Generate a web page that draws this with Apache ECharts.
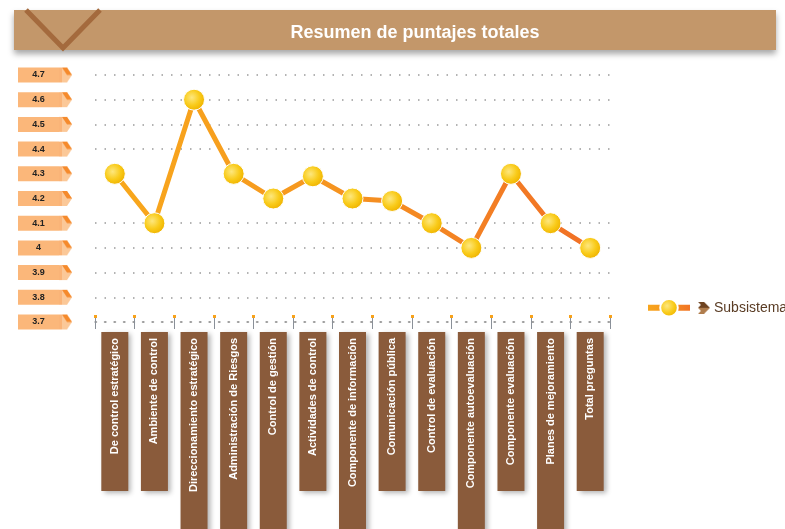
<!DOCTYPE html>
<html>
<head>
<meta charset="utf-8">
<script src="https://cdn.jsdelivr.net/npm/echarts@6/dist/echarts.min.js"></script>
<style>
  html, body { margin: 0; padding: 0; background: #fff; }
  #chart { width: 785px; height: 529px; }
</style>
</head>
<body>
<div id="chart"></div>
<script>
// datos del gráfico
const categorias = [
  'De control estratégico', 'Ambiente de control', 'Direccionamiento estratégico',
  'Administración de Riesgos', 'Control de gestión', 'Actividades de control',
  'Componente de información', 'Comunicación pública', 'Control de evaluación',
  'Componente autoevaluación', 'Componente evaluación', 'Planes de mejoramiento',
  'Total preguntas'
];
const puntajes = [4.3, 4.1, 4.6, 4.3, 4.2, 4.29, 4.2, 4.19, 4.1, 4.0, 4.3, 4.1, 4.0];
const nombreSerie = 'Subsistemas';
const titulo = 'Resumen de puntajes totales';

// etiquetas con caja larga (se salen por abajo)
const etiquetasLargas = [2, 3, 4, 6, 9, 11];
// líneas guía ocultas (4.2 y 4.3)
const gris = '#9a9a9a';
const coloresGuia = [gris, gris, gris, gris, gris, 'rgba(0,0,0,0)', 'rgba(0,0,0,0)', gris, gris, gris, gris];

// pequeña flecha naranja al final de cada etiqueta del eje Y
function flechaEtiqueta() {
  const c = document.createElement('canvas');
  c.width = 13; c.height = 15;
  const g = c.getContext('2d');
  g.fillStyle = '#fbc898';
  g.beginPath();
  g.moveTo(0, 0); g.lineTo(8, 0); g.lineTo(13, 7.5); g.lineTo(8, 15); g.lineTo(0, 15);
  g.closePath(); g.fill();
  g.fillStyle = '#fab478';
  g.fillRect(0, 0, 3, 15);
  g.fillStyle = '#f58a2c';
  g.beginPath();
  g.moveTo(3, 0); g.lineTo(8, 0); g.lineTo(13, 7.5); g.lineTo(8, 7.5);
  g.closePath(); g.fill();
  return c;
}

// chevron marrón de la leyenda
function chevron() {
  const c = document.createElement('canvas');
  c.width = 12; c.height = 12;
  const g = c.getContext('2d');
  g.fillStyle = '#6e4320';
  g.beginPath();
  g.moveTo(0, 0); g.lineTo(6, 0); g.lineTo(12, 6); g.lineTo(6, 6); g.lineTo(0, 6); g.lineTo(3, 3);
  g.closePath(); g.fill();
  g.fillStyle = '#b07d4d';
  g.beginPath();
  g.moveTo(0, 12); g.lineTo(6, 12); g.lineTo(12, 6); g.lineTo(6, 6); g.lineTo(0, 6); g.lineTo(3, 9);
  g.closePath(); g.fill();
  return c;
}

const chart = echarts.init(document.getElementById('chart'), null, { renderer: 'canvas' });

const colorLinea = new echarts.graphic.LinearGradient(0, 0, 1, 0, [
  { offset: 0, color: '#f8a81c' },
  { offset: 0.4, color: '#f6981f' },
  { offset: 1, color: '#f17026' }
]);
const colorPunto = new echarts.graphic.RadialGradient(0.4, 0.4, 0.6, [
  { offset: 0, color: '#fde77e' },
  { offset: 0.6, color: '#f9cb1a' },
  { offset: 1, color: '#f0b400' }
]);

// ejes X extra solo para las marcas (gris hacia arriba y punto naranja)
const ejeMarcas = {
  type: 'category',
  data: categorias,
  position: 'bottom',
  boundaryGap: true,
  axisLine: { show: false },
  axisLabel: { show: false, interval: 0 },
  splitLine: { show: false }
};

chart.setOption({
  backgroundColor: '#fff',
  animation: false,
  textStyle: { fontFamily: 'Liberation Sans, Arial, sans-serif' },
  graphic: [
    {
      type: 'rect',
      shape: { x: 14, y: 10, width: 762, height: 40 },
      style: { fill: '#c3976a', shadowBlur: 6, shadowOffsetY: 4, shadowColor: 'rgba(0,0,0,0.35)' },
      z: 0
    },
    {
      type: 'polyline',
      shape: { points: [[26, 10], [63, 48], [100, 10]] },
      style: { stroke: '#a46a3d', lineWidth: 5, fill: null },
      z: 1
    }
  ],
  title: {
    text: titulo,
    left: 410,
    top: 19,
    textAlign: 'center',
    textStyle: {
      color: '#fff',
      fontSize: 18,
      fontWeight: 'bold',
      fontFamily: 'Liberation Sans, Arial, sans-serif'
    },
    z: 5
  },
  legend: {
    left: 640,
    top: 293,
    itemWidth: 42,
    itemHeight: 22,
    data: [nombreSerie],
    lineStyle: { width: 6 },
    formatter: '{p|}{c|}{n|{name}}',
    textStyle: {
      rich: {
        p: { width: 3 },
        c: { width: 12, height: 12, backgroundColor: { image: chevron() } },
        n: { color: '#5a3c24', fontSize: 14, padding: [0, 0, 0, 4] }
      }
    }
  },
  grid: { left: 95, right: 175, top: 75, bottom: 207, containLabel: false, outerBoundsMode: 'none' },
  xAxis: [
    {
      type: 'category',
      data: categorias,
      boundaryGap: true,
      axisLine: { lineStyle: { color: gris, type: [1.5, 8], width: 1.5 } },
      axisTick: { show: true, interval: 0, inside: false, length: 7, lineStyle: { color: '#8a9098', width: 1 } },
      axisLabel: {
        interval: 0,
        rotate: 90,
        margin: 10,
        color: '#fff',
        fontSize: 11,
        fontWeight: 'bold',
        backgroundColor: '#8a5b3b',
        padding: [0, 6, 0, 4],
        lineHeight: 27,
        shadowBlur: 5,
        shadowOffsetX: 3,
        shadowOffsetY: 2,
        shadowColor: 'rgba(0,0,0,0.3)',
        formatter: function (v, i) {
          return etiquetasLargas.indexOf(i) >= 0 ? '{l|' + v + '}' : '{s|' + v + '}';
        },
        rich: {
          s: { width: 149, align: 'right', color: '#fff', fontSize: 11, fontWeight: 'bold', lineHeight: 27 },
          l: { width: 210, align: 'right', color: '#fff', fontSize: 11, fontWeight: 'bold', lineHeight: 27 }
        }
      }
    },
    Object.assign({}, ejeMarcas, {
      axisTick: { show: true, interval: 0, inside: true, length: 5, lineStyle: { color: '#8a9098', width: 1 } }
    }),
    Object.assign({}, ejeMarcas, {
      offset: -4,
      axisTick: { show: true, interval: 0, inside: true, length: 3, lineStyle: { color: '#f7a21b', width: 3 } }
    })
  ],
  yAxis: {
    type: 'value',
    min: 3.7,
    max: 4.7,
    interval: 0.1,
    axisLine: { show: false },
    axisTick: { show: false },
    splitLine: { show: true, lineStyle: { color: coloresGuia, type: [1.5, 8], width: 1.5 } },
    axisLabel: {
      margin: 23,
      formatter: function (v) { return '{v|' + v + '}{a|}'; },
      rich: {
        v: { width: 41, height: 15, align: 'center', backgroundColor: '#fbb77a', color: '#222', fontSize: 9, fontWeight: 'bold' },
        a: { width: 13, height: 15, backgroundColor: { image: flechaEtiqueta() } }
      }
    }
  },
  series: [{
    name: nombreSerie,
    type: 'line',
    xAxisIndex: 0,
    data: puntajes,
    symbol: 'circle',
    symbolSize: 21,
    lineStyle: { width: 5, color: colorLinea },
    itemStyle: { color: colorPunto, borderColor: '#fff', borderWidth: 1 },
    z: 3
  }]
});
</script>
</body>
</html>
